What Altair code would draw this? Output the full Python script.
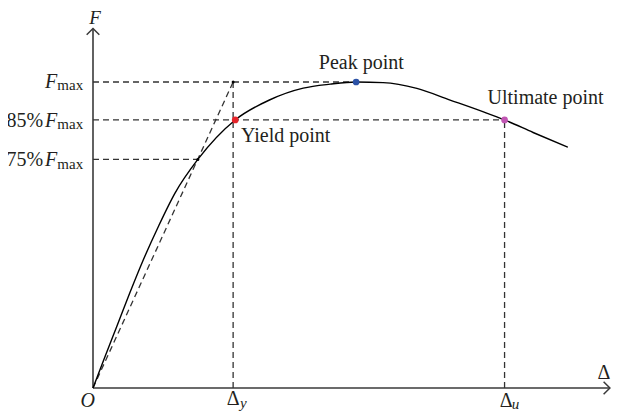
import altair as alt
import pandas as pd

# ---- data (displacement units, force with Fmax = 100) ----
curve_x = [0, 2.1, 4.6, 7.1, 9.7, 12.6, 15.8, 20.2, 27.4, 34.1, 40.5, 45.7,
           50.7, 55.9, 62.4, 68.8, 75.1, 79.3, 84.8, 91.5]
curve_f = [0, 9.3, 20.2, 31.1, 41.9, 52.8, 63.7, 74.7, 87.6, 94.2, 98.0, 99.3,
           100.0, 99.8, 97.9, 94.1, 90.3, 87.6, 83.5, 78.7]

F_MAX = 100.0
F_85 = 87.6
F_75 = 74.7
D_Y = 27.0      # yield displacement
D_U = 79.3      # ultimate displacement
X_75 = 20.2     # where the secant crosses the curve at 75% Fmax
X_END = 99.6    # end of displacement axis
F_END = 117.5   # end of force axis

point_names = ["Yield point", "Peak point", "Ultimate point"]
point_x = [27.4, 50.7, 79.3]
point_f = [87.6, 100.0, 87.6]
point_colors = ["#e5252b", "#2c52a6", "#c156b3"]

FONT = "Liberation Serif"
INK = "#231f20"

curve = pd.DataFrame({"x": curve_x, "y": curve_f})

xs = alt.Scale(domain=[0, 100], nice=False, zero=False)
ys = alt.Scale(domain=[0, 100], nice=False, zero=False)


def X(f="x"):
    return alt.X(f"{f}:Q", scale=xs, axis=None)


def Y(f="y"):
    return alt.Y(f"{f}:Q", scale=ys, axis=None)


# axes (solid lines)
axes_df = pd.DataFrame({"x": [0, 0], "y": [0, 0], "x2": [X_END, 0], "y2": [0, F_END]})
axes = alt.Chart(axes_df).mark_rule(color="#3a3a3a", strokeWidth=1.6).encode(
    x=X(), y=Y(), x2="x2:Q", y2="y2:Q")

# arrow heads
arrow_x = alt.Chart(pd.DataFrame({"x": [X_END], "y": [0]})).mark_point(
    shape="M-1,-1L0,0L-1,1", filled=False, size=160, color="#3a3a3a", strokeWidth=1.5,
    opacity=1).encode(x=X(), y=Y())
arrow_y = alt.Chart(pd.DataFrame({"x": [0], "y": [F_END]})).mark_point(
    shape="M-1,1L0,0L1,1", filled=False, size=160, color="#3a3a3a", strokeWidth=1.5,
    opacity=1).encode(x=X(), y=Y())

# dashed guide lines
guides_df = pd.DataFrame({
    "x": [0, 0, 0, D_Y, D_U, 0],
    "y": [F_MAX, F_85, F_75, 0, 0, 0],
    "x2": [point_x[1], D_U, X_75, D_Y, D_U, D_Y],
    "y2": [F_MAX, F_85, F_75, F_MAX, F_85, F_MAX],
})
guides = alt.Chart(guides_df).mark_rule(
    color="#333333", strokeWidth=1.3, strokeDash=[6, 4]).encode(
    x=X(), y=Y(), x2="x2:Q", y2="y2:Q")

# curve
line = alt.Chart(curve).mark_line(color="black", strokeWidth=1.4,
                                  interpolate="monotone").encode(x=X(), y=Y())

# small black dots at intersections
dots = alt.Chart(pd.DataFrame({"x": [D_Y, X_75], "y": [F_MAX, F_75]})).mark_circle(
    color="black", size=9, opacity=1).encode(x=X(), y=Y())

# coloured characteristic points
pts_df = pd.DataFrame({"x": point_x, "y": point_f, "name": point_names})
pts = alt.Chart(pts_df).mark_circle(size=45, opacity=1).encode(
    x=X(), y=Y(),
    color=alt.Color("name:N", scale=alt.Scale(domain=point_names, range=point_colors),
                    legend=None))


def texts(xv, yv, tv, align, size=20, italic=False):
    df = pd.DataFrame({"x": xv, "y": yv, "t": tv})
    kw = dict(align=align, baseline="alphabetic", font=FONT, fontSize=size, color=INK)
    if italic:
        kw["fontStyle"] = "italic"
    return alt.Chart(df).mark_text(**kw).encode(x=X(), y=Y(), text="t:N")


labels = [
    texts([51.7, 87.2], [104.2, 92.7], ["Peak point", "Ultimate point"], "center"),
    texts([28.5], [80.5], ["Yield point"], "left"),
    texts([-9.6, -9.6], [85.4, 72.4], ["85%", "75%"], "right"),
    texts([-6.9, -6.9, -6.9], [97.9, 85.4, 72.4], ["F", "F", "F"], "right", italic=True),
    texts([-1.9, -1.9, -1.9], [97.3, 84.6, 71.6], ["max", "max", "max"], "right", size=15),
    texts([0.4], [118.8], ["F"], "center", size=19, italic=True),
    texts([-1.0], [-6.05], ["O"], "center", italic=True),
    texts([27.0, 79.6], [-5.7, -6.2], ["Δ", "Δ"], "center"),
    texts([99.7], [2.8], ["Δ"], "right"),
    texts([28.3, 80.7], [-6.5, -7.0], ["y", "u"], "left", size=15, italic=True),
]

chart = alt.layer(axes, arrow_x, arrow_y, guides, line, dots, pts, *labels).properties(
    width=519, height=306,
    padding={"left": 85, "top": 74, "right": 0, "bottom": 23},
    autosize=alt.AutoSizeParams(type="none"),
    background="white",
).configure_view(stroke=None)

chart.save("out.html", embed_options={"renderer": "svg", "actions": False})
